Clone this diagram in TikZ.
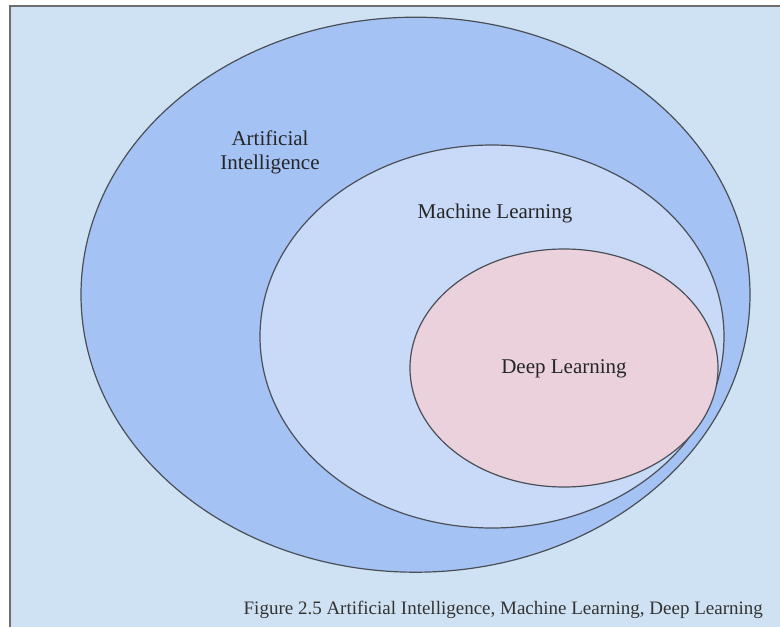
\documentclass[tikz,border=0pt]{standalone}
\usepackage{fontspec}
\setmainfont{Liberation Serif}
\usetikzlibrary{shapes.geometric}
\definecolor{bgblue}{HTML}{CFE2F3}
\definecolor{aiblue}{HTML}{A4C2F4}
\definecolor{mlblue}{HTML}{C9DAF8}
\definecolor{dlpink}{HTML}{EAD1DC}
\definecolor{edgegray}{HTML}{4A4F57}
\definecolor{framegray}{HTML}{6E6E6E}
\tikzset{
  setellipse/.style={ellipse, draw=edgegray, line width=1.2pt, inner sep=0pt},
  setlabel/.style={font=\fontsize{21}{24}\selectfont, text=black!85, align=center, inner sep=0pt},
  captionlabel/.style={font=\fontsize{19}{22}\selectfont, text=black!80, inner sep=0pt, anchor=base east}
}
\begin{document}
\begin{tikzpicture}[x=1pt,y=-1pt]
\useasboundingbox (0,0) rectangle (780,627);
\fill[white] (0,0) rectangle (780,627);
\fill[bgblue] (10,6) rectangle (780,627);
\draw[framegray, line width=2pt] (10,627) -- (10,6) -- (780,6);
\node[setellipse, fill=aiblue, minimum width=669pt, minimum height=555pt] (ai) at (415.5,294.7) {};
\node[setellipse, fill=mlblue, minimum width=464pt, minimum height=383pt] (ml) at (492,336.5) {};
\node[setellipse, fill=dlpink, minimum width=308pt, minimum height=238pt] (dl) at (564,368) {};
\node[setlabel] (ailabel) at (270,152) {Artificial\\Intelligence};
\node[setlabel] (mllabel) at (495,213) {Machine Learning};
\node[setlabel] (dllabel) at (564,369) {Deep Learning};
\node[captionlabel] (caption) at (763,614) {Figure 2.5 Artificial Intelligence, Machine Learning, Deep Learning};
\end{tikzpicture}
\end{document}
